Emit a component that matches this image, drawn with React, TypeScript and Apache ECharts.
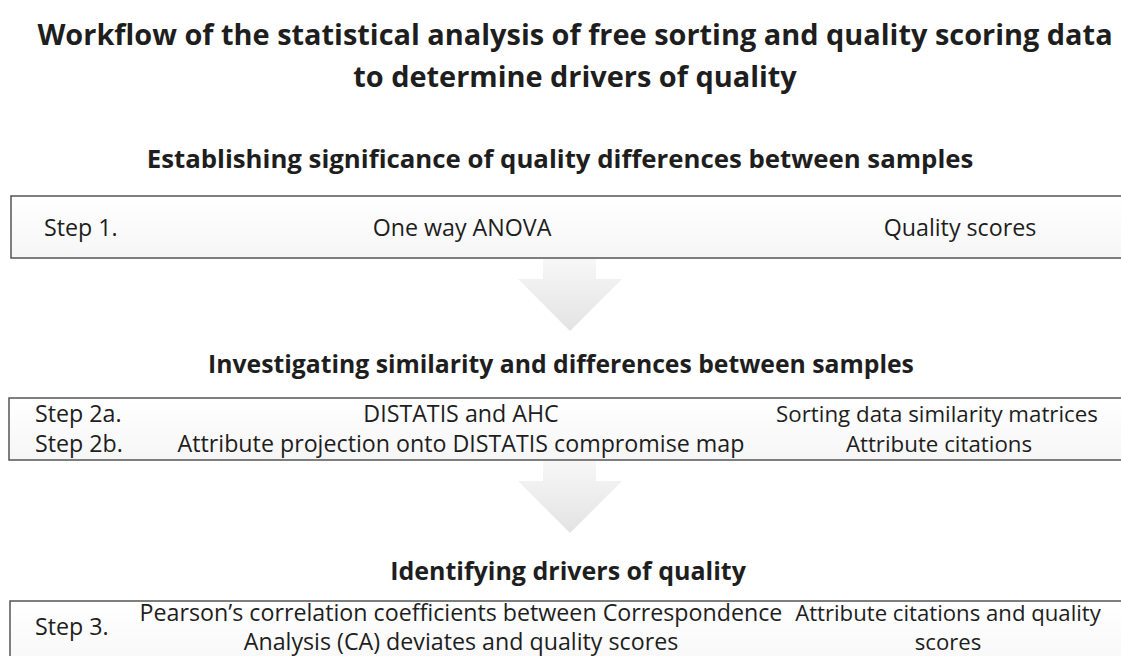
import React, { useEffect, useRef } from "react";
import * as echarts from "echarts";

const titleLines = [
  "Workflow of the statistical analysis of free sorting and quality scoring data",
  "to determine drivers of quality",
];
const sectionHeadings = [
  "Establishing significance of quality differences between samples",
  "Investigating similarity and differences between samples",
  "Identifying drivers of quality",
];
const stepLabels = ["Step 1.", "Step 2a.", "Step 2b.", "Step 3."];
const methods = [
  "One way ANOVA",
  "DISTATIS and AHC",
  "Attribute projection onto DISTATIS compromise map",
  "Pearson’s correlation coefficients between Correspondence\nAnalysis (CA) deviates and quality scores",
];
const dataTypes = [
  "Quality scores",
  "Sorting data similarity matrices",
  "Attribute citations",
  "Attribute citations and quality\nscores",
];

const FAMILY = "'Open Sans'";
const FONT = "'Open Sans', 'Noto Sans', sans-serif";
const TEXT_COLOR = "#1e1e1e";

// font size that makes `text` span `target` px
function fitSize(text: string, target: number, bold: boolean) {
  const c = document.createElement("canvas").getContext("2d")!;
  c.font = (bold ? "bold " : "") + "100px " + FAMILY;
  const w = c.measureText(text).width;
  return (100 * target) / w;
}

function txt(text: string, x: number, y: number, size: number, bold: boolean, align: string, lineHeight?: number) {
  return {
    type: "text",
    x,
    y,
    z: 5,
    style: {
      text,
      fontSize: size,
      fontFamily: FONT,
      fontWeight: bold ? "bold" : "normal",
      fill: TEXT_COLOR,
      textAlign: align,
      textVerticalAlign: "middle",
      align,
      verticalAlign: "middle",
      lineHeight: lineHeight || size * 1.3,
    },
  };
}

const boxFill = {
  type: "linear",
  x: 0, y: 0, x2: 0, y2: 1,
  colorStops: [
    { offset: 0, color: "#ffffff" },
    { offset: 1, color: "#f6f6f6" },
  ],
};
const arrowFill = {
  type: "linear",
  x: 0, y: 0, x2: 0, y2: 1,
  colorStops: [
    { offset: 0, color: "#f7f7f7" },
    { offset: 1, color: "#e3e3e3" },
  ],
};

function box(x: number, y: number, w: number, h: number) {
  return {
    type: "rect",
    shape: { x, y, width: w, height: h },
    style: { fill: boxFill, stroke: "#555555", lineWidth: 1.5 },
  };
}

function arrow(top: number) {
  const pts = [
    [543, top],
    [596, top],
    [596, top + 20],
    [622, top + 20],
    [570, top + 72],
    [518, top + 20],
    [543, top + 20],
  ];
  return { type: "polygon", shape: { points: pts }, style: { fill: arrowFill }, z: 1 };
}

export default function App() {
  const ref = useRef<HTMLDivElement>(null);
  useEffect(() => {
    document.body.style.margin = "0";
    const chart = echarts.init(ref.current!, undefined, { renderer: "svg" });
    const titleSize = fitSize(titleLines[0], 1076, true);
    const head1 = fitSize(sectionHeadings[0], 827, true);
    const head2 = fitSize(sectionHeadings[1], 706, true);
    const head3 = fitSize(sectionHeadings[2], 356, true);
    const bodySize = fitSize(methods[2], 567, false);
    const rightSize2 = Math.min(bodySize, fitSize(dataTypes[1], 322, false));
    const rightSize3 = Math.min(bodySize, fitSize(dataTypes[3].split("\n")[0], 306, false));
    const lh = 29;
    const elements: any[] = [];
    // title
    elements.push(txt(titleLines[0], 575, 33, titleSize, true, "center"));
    elements.push(txt(titleLines[1], 575, 75, titleSize, true, "center"));
    // section headings
    elements.push(txt(sectionHeadings[0], 560, 158, head1, true, "center"));
    elements.push(txt(sectionHeadings[1], 561, 363, head2, true, "center"));
    elements.push(txt(sectionHeadings[2], 568, 570, head3, true, "center"));
    // boxes
    elements.push(box(11, 196, 1125, 62));
    elements.push(box(9, 398, 1125, 62));
    elements.push(box(10, 601, 1125, 80));
    // arrows
    elements.push(arrow(259));
    elements.push(arrow(461));
    // box 1
    elements.push(txt(stepLabels[0], 44, 227, bodySize, false, "left"));
    elements.push(txt(methods[0], 462, 227, bodySize, false, "center"));
    elements.push(txt(dataTypes[0], 960, 227, bodySize, false, "center"));
    // box 2
    elements.push(txt(stepLabels[1], 35, 413, bodySize, false, "left"));
    elements.push(txt(methods[1], 461, 413, bodySize, false, "center"));
    elements.push(txt(dataTypes[1], 937, 413, rightSize2, false, "center"));
    elements.push(txt(stepLabels[2], 35, 443, bodySize, false, "left"));
    elements.push(txt(methods[2], 461, 443, bodySize, false, "center"));
    elements.push(txt(dataTypes[2], 939, 443, rightSize2, false, "center"));
    // box 3
    elements.push(txt(stepLabels[3], 35, 626, bodySize, false, "left"));
    elements.push(txt(methods[3], 461, 626, bodySize, false, "center", lh));
    elements.push(txt(dataTypes[3], 948, 626, rightSize3, false, "center", lh));

    chart.setOption({
      animation: false,
      backgroundColor: "#ffffff",
      graphic: { elements },
    });
    return () => chart.dispose();
  }, []);
  return (
    <div
      ref={ref}
      style={{ position: "fixed", left: 0, top: 0, width: 1121, height: 656 }}
    />
  );
}
